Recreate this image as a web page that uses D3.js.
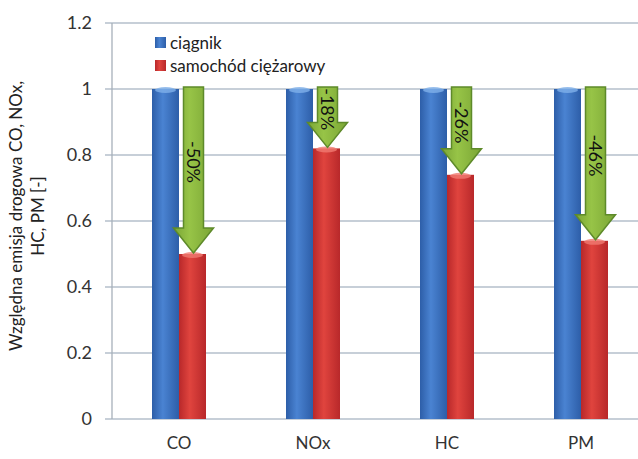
<!DOCTYPE html>
<html>
<head>
<meta charset="utf-8">
<script src="https://cdn.jsdelivr.net/npm/d3@7"></script>
<style>
  body { margin: 0; background: #fff; }
  svg { display: block; font-family: Lato, "Open Sans", sans-serif; }
</style>
</head>
<body>
<div id="chart"></div>
<script>
// dane z wykresu
const categories = ['CO', 'NOx', 'HC', 'PM'];
const seriesNames = ['ciągnik', 'samochód ciężarowy'];
const tractorValues = [1, 1, 1, 1];
const truckValues = [0.5, 0.82, 0.74, 0.54];
const changeLabels = ['-50%', '-18%', '-26%', '-46%'];
const yTicks = [0, 0.2, 0.4, 0.6, 0.8, 1, 1.2];

const width = 638, height = 459;
const margin = { left: 112, right: -10, top: 23, bottom: 40 };

const svg = d3.select('#chart')
    .append('svg')
    .attr('width', width)
    .attr('height', height);

const defs = svg.append('defs');
function hGradient(id, edge, mid) {
    const g = defs.append('linearGradient').attr('id', id)
        .attr('x1', '0%').attr('x2', '100%').attr('y1', '0%').attr('y2', '0%');
    g.append('stop').attr('offset', '0%').attr('stop-color', edge);
    g.append('stop').attr('offset', '40%').attr('stop-color', mid);
    g.append('stop').attr('offset', '100%').attr('stop-color', edge);
}
hGradient('gBlue', '#2d5ea8', '#4a83d2');
hGradient('gRed', '#b8282a', '#e0443e');
hGradient('gGreen', '#7aa535', '#97c447');

const colors = ['url(#gBlue)', 'url(#gRed)'];
const capColors = ['#7fb0ea', '#f07a72'];

const x0 = d3.scaleBand()
    .domain(categories)
    .range([margin.left, width - margin.right])
    .paddingInner(0.597)
    .paddingOuter(0.2985);

const x1 = d3.scaleBand()
    .domain(seriesNames)
    .range([0, x0.bandwidth()]);

const y = d3.scaleLinear()
    .domain([0, 1.2])
    .range([height - margin.bottom, margin.top]);

// siatka
svg.append('g')
    .selectAll('line')
    .data(yTicks)
    .enter()
    .append('line')
    .attr('x1', margin.left - 7)
    .attr('x2', width)
    .attr('y1', d => y(d))
    .attr('y2', d => y(d))
    .attr('stroke', '#b4bfcb')
    .attr('stroke-width', 1.3);

// oś Y
svg.append('line')
    .attr('x1', margin.left).attr('x2', margin.left)
    .attr('y1', y(1.2)).attr('y2', y(0))
    .attr('stroke', '#a7b0ba')
    .attr('stroke-width', 1.3);

svg.append('g')
    .selectAll('text')
    .data(yTicks)
    .enter()
    .append('text')
    .attr('x', 92)
    .attr('y', d => y(d))
    .attr('dy', '0.35em')
    .attr('text-anchor', 'end')
    .style('font-size', '18px')
    .style('fill', '#333')
    .text(d => d === 0 ? '0' : String(+d.toFixed(1)));

// etykiety osi X
svg.append('g')
    .selectAll('text')
    .data(categories)
    .enter()
    .append('text')
    .attr('x', d => x0(d) + x0.bandwidth() / 2)
    .attr('y', 449)
    .attr('text-anchor', 'middle')
    .style('font-size', '17px')
    .style('fill', '#333')
    .text(d => d);

// tytuł osi Y
const yTitle = svg.append('text')
    .attr('transform', `translate(22,216) rotate(-90)`)
    .attr('text-anchor', 'middle')
    .style('font-size', '17px')
    .style('fill', '#222');
yTitle.append('tspan').attr('x', 0).attr('dy', 0).text('Względna emisja drogowa CO, NOx,');
yTitle.append('tspan').attr('x', 0).attr('dy', 22).text('HC, PM [-]');

// słupki
const rows = categories.map((c, i) => ({ cat: c, values: [tractorValues[i], truckValues[i]] }));
const groups = svg.append('g')
    .selectAll('g')
    .data(rows)
    .enter()
    .append('g')
    .attr('transform', d => `translate(${x0(d.cat)},0)`);

groups.selectAll('rect')
    .data(d => d.values.map((v, k) => ({ k, v })))
    .enter()
    .append('rect')
    .attr('x', d => x1(seriesNames[d.k]))
    .attr('y', d => y(d.v))
    .attr('width', x1.bandwidth())
    .attr('height', d => y(0) - y(d.v))
    .attr('fill', d => colors[d.k]);

groups.selectAll('ellipse')
    .data(d => d.values.map((v, k) => ({ k, v })))
    .enter()
    .append('ellipse')
    .attr('cx', d => x1(seriesNames[d.k]) + x1.bandwidth() / 2)
    .attr('cy', d => y(d.v) + 1)
    .attr('rx', x1.bandwidth() / 2 - 3)
    .attr('ry', 3)
    .attr('fill', d => capColors[d.k])
    .attr('opacity', 0.8);

// strzałki
const arrowData = categories.map((c, i) => ({
    cx: x0(c) + x1(seriesNames[1]) + x1.bandwidth() / 2 + 1,
    top: y(tractorValues[i]) - 2,
    tip: y(truckValues[i]) - 1,
    label: changeLabels[i]
}));
const sw = 10, hw = 20, hh = 25;
const arrows = svg.append('g')
    .selectAll('g')
    .data(arrowData)
    .enter()
    .append('g');

arrows.append('path')
    .attr('d', d => {
        const b = d.tip - hh;
        return `M${d.cx - sw},${d.top} L${d.cx + sw},${d.top} L${d.cx + sw},${b} L${d.cx + hw},${b}`
            + ` L${d.cx},${d.tip} L${d.cx - hw},${b} L${d.cx - sw},${b} Z`;
    })
    .attr('fill', 'url(#gGreen)')
    .attr('stroke', '#5e8a2a')
    .attr('stroke-width', 1.5)
    .attr('stroke-linejoin', 'miter');

arrows.append('text')
    .attr('transform', d => `translate(${d.cx},${(d.top + d.tip) / 2 - 8}) rotate(90)`)
    .attr('text-anchor', 'middle')
    .attr('dy', '0.35em')
    .style('font-size', '18px')
    .style('fill', '#111')
    .text(d => d.label);

// legenda
const legend = svg.append('g')
    .selectAll('g')
    .data(seriesNames)
    .enter()
    .append('g')
    .attr('transform', (d, i) => `translate(155,${37 + i * 23})`);
legend.append('rect')
    .attr('width', 11)
    .attr('height', 11)
    .attr('fill', (d, i) => colors[i]);
legend.append('text')
    .attr('x', 15)
    .attr('y', 6)
    .attr('dy', '0.35em')
    .style('font-size', '17px')
    .style('fill', '#222')
    .text(d => d);
</script>
</body>
</html>
